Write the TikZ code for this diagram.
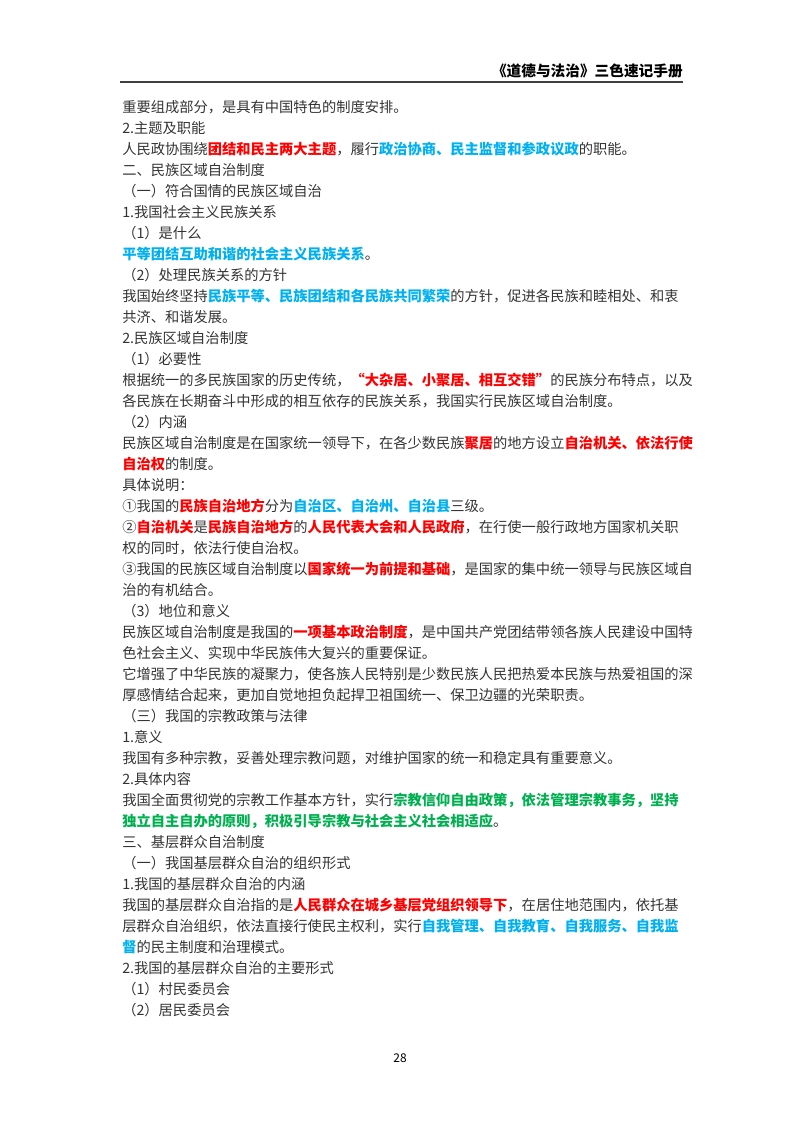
\documentclass[tikz,border=0pt]{standalone}
\usepackage{fontspec}
\setmainfont{Noto Sans CJK SC}
\usepackage{xcolor}
\definecolor{hired}{HTML}{FF0000}
\definecolor{hiblue}{HTML}{00B0F0}
\definecolor{higreen}{HTML}{00B050}
\newcommand*{\hr}[1]{{\bfseries\color{hired}#1}}
\newcommand*{\hb}[1]{{\bfseries\color{hiblue}#1}}
\newcommand*{\hg}[1]{{\bfseries\color{higreen}#1}}
\newcommand*{\bodyfont}{\fontsize{10.7pt}{13pt}\selectfont\color{black!80}}
\tikzset{ln/.style={anchor=base west, inner sep=0pt, font=\bodyfont}}
\begin{document}
\begin{tikzpicture}[x=0.75pt, y=-0.75pt]
  \useasboundingbox (0,0) rectangle (800,1132);
  % header
  \node[anchor=base east, inner sep=0pt, font=\fontsize{11pt}{13pt}\selectfont\bfseries] (head) at (683,76) {《道德与法治》三色速记手册};
  \draw[black!75, line width=1.2pt] (120,82) -- (683,82);
  % body lines
  \node[ln] (l1)  at (122,112) {重要组成部分，是具有中国特色的制度安排。};
  \node[ln] (l2)  at (122,133) {2.主题及职能};
  \node[ln] (l3)  at (122,154) {人民政协围绕\hr{团结和民主两大主题}，履行\hb{政治协商、民主监督和参政议政}的职能。};
  \node[ln] (l4)  at (122,175) {二、民族区域自治制度};
  \node[ln] (l5)  at (122,196) {（一）符合国情的民族区域自治};
  \node[ln] (l6)  at (122,217) {1.我国社会主义民族关系};
  \node[ln] (l7)  at (122,238) {（1）是什么};
  \node[ln] (l8)  at (122,259) {\hb{平等团结互助和谐的社会主义民族关系}。};
  \node[ln] (l9)  at (122,280) {（2）处理民族关系的方针};
  \node[ln] (l10) at (122,301) {我国始终坚持\hb{民族平等、民族团结和各民族共同繁荣}的方针，促进各民族和睦相处、和衷};
  \node[ln] (l11) at (122,322) {共济、和谐发展。};
  \node[ln] (l12) at (122,343) {2.民族区域自治制度};
  \node[ln] (l13) at (122,364) {（1）必要性};
  \node[ln] (l14) at (122,385) {根据统一的多民族国家的历史传统，\hr{“大杂居、小聚居、相互交错”}的民族分布特点，以及};
  \node[ln] (l15) at (122,406) {各民族在长期奋斗中形成的相互依存的民族关系，我国实行民族区域自治制度。};
  \node[ln] (l16) at (122,427) {（2）内涵};
  \node[ln] (l17) at (122,448) {民族区域自治制度是在国家统一领导下，在各少数民族\hr{聚居}的地方设立\hr{自治机关、依法行使}};
  \node[ln] (l18) at (122,469) {\hr{自治权}的制度。};
  \node[ln] (l19) at (122,490) {具体说明：};
  \node[ln] (l20) at (122,511) {①我国的\hr{民族自治地方}分为\hb{自治区、自治州、自治县}三级。};
  \node[ln] (l21) at (122,532) {②\hr{自治机关}是\hr{民族自治地方}的\hr{人民代表大会和人民政府}，在行使一般行政地方国家机关职};
  \node[ln] (l22) at (122,553) {权的同时，依法行使自治权。};
  \node[ln] (l23) at (122,574) {③我国的民族区域自治制度以\hr{国家统一为前提和基础}，是国家的集中统一领导与民族区域自};
  \node[ln] (l24) at (122,595) {治的有机结合。};
  \node[ln] (l25) at (122,616) {（3）地位和意义};
  \node[ln] (l26) at (122,637) {民族区域自治制度是我国的\hr{一项基本政治制度}，是中国共产党团结带领各族人民建设中国特};
  \node[ln] (l27) at (122,658) {色社会主义、实现中华民族伟大复兴的重要保证。};
  \node[ln] (l28) at (122,679) {它增强了中华民族的凝聚力，使各族人民特别是少数民族人民把热爱本民族与热爱祖国的深};
  \node[ln] (l29) at (122,700) {厚感情结合起来，更加自觉地担负起捍卫祖国统一、保卫边疆的光荣职责。};
  \node[ln] (l30) at (122,721) {（三）我国的宗教政策与法律};
  \node[ln] (l31) at (122,742) {1.意义};
  \node[ln] (l32) at (122,763) {我国有多种宗教，妥善处理宗教问题，对维护国家的统一和稳定具有重要意义。};
  \node[ln] (l33) at (122,784) {2.具体内容};
  \node[ln] (l34) at (122,805) {我国全面贯彻党的宗教工作基本方针，实行\hg{宗教信仰自由政策，依法管理宗教事务，坚持}};
  \node[ln] (l35) at (122,826) {\hg{独立自主自办的原则，积极引导宗教与社会主义社会相适应}。};
  \node[ln] (l36) at (122,847) {三、基层群众自治制度};
  \node[ln] (l37) at (122,868) {（一）我国基层群众自治的组织形式};
  \node[ln] (l38) at (122,889) {1.我国的基层群众自治的内涵};
  \node[ln] (l39) at (122,910) {我国的基层群众自治指的是\hr{人民群众在城乡基层党组织领导下}，在居住地范围内，依托基};
  \node[ln] (l40) at (122,931) {层群众自治组织，依法直接行使民主权利，实行\hb{自我管理、自我教育、自我服务、自我监}};
  \node[ln] (l41) at (122,952) {\hb{督}的民主制度和治理模式。};
  \node[ln] (l42) at (122,973) {2.我国的基层群众自治的主要形式};
  \node[ln] (l43) at (122,994) {（1）村民委员会};
  \node[ln] (l44) at (122,1015) {（2）居民委员会};
  % page number
  \node[font=\fontsize{9pt}{10pt}\selectfont, inner sep=0pt] (pnum) at (400,1058) {28};
\end{tikzpicture}
\end{document}
